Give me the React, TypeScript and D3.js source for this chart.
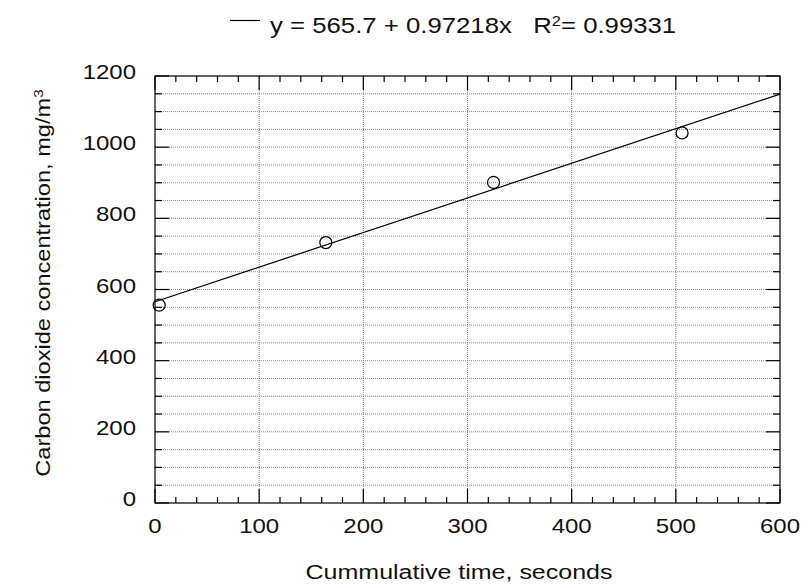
import React from "react";
import * as d3 from "d3";

const timeSeconds = [4, 164, 325, 506];
const co2Values = [556, 732, 901, 1040];
const fitIntercept = 565.7;
const fitSlope = 0.97218;
const fitR2 = "0.99331";
const xTicks = [0, 100, 200, 300, 400, 500, 600];
const yTicks = [0, 200, 400, 600, 800, 1000, 1200];

const W = 805;
const H = 586;
const M = { left: 155, right: 780, top: 76, bottom: 503 };
const FONT = "'Liberation Sans', Arial, Helvetica, sans-serif";

export default function App() {
  const x = d3.scaleLinear().domain([0, 600]).range([M.left, M.right]);
  const y = d3.scaleLinear().domain([0, 1200]).range([M.bottom, M.top]);

  const xMinor = d3.range(0, 601, 20);
  const yMinor = d3.range(0, 1201, 50);
  const line = d3.line<number>().x((d) => x(d)).y((d) => y(fitIntercept + fitSlope * d));

  return (
    <svg
      width={W}
      height={H}
      style={{ position: "absolute", left: 0, top: 0, background: "#fff" }}
      fontFamily={FONT}
      fill="#111"
    >
      {/* grid */}
      {yMinor
        .filter((v) => v > 0 && v < 1200)
        .map((v) => (
          <line key={"gy" + v} x1={M.left} x2={M.right} y1={y(v)} y2={y(v)} stroke="#888" strokeWidth={1} strokeDasharray="1,1" />
        ))}
      {xTicks
        .filter((v) => v > 0 && v < 600)
        .map((v) => (
          <line key={"gx" + v} x1={x(v)} x2={x(v)} y1={M.top} y2={M.bottom} stroke="#888" strokeWidth={1} strokeDasharray="1,1" />
        ))}
      {/* ticks */}
      {xMinor.map((v) => {
        const len = v % 100 === 0 ? 14 : 6;
        return (
          <g key={"xt" + v}>
            <line x1={x(v)} x2={x(v)} y1={M.bottom} y2={M.bottom - len} stroke="#000" strokeWidth={1.2} />
            <line x1={x(v)} x2={x(v)} y1={M.top} y2={M.top + len} stroke="#000" strokeWidth={1.2} />
          </g>
        );
      })}
      {yMinor.map((v) => {
        const len = v % 200 === 0 ? 14 : 7;
        return (
          <g key={"yt" + v}>
            <line x1={M.left} x2={M.left + len} y1={y(v)} y2={y(v)} stroke="#000" strokeWidth={1.2} />
            <line x1={M.right} x2={M.right - len} y1={y(v)} y2={y(v)} stroke="#000" strokeWidth={1.2} />
          </g>
        );
      })}
      <rect x={M.left} y={M.top} width={M.right - M.left} height={M.bottom - M.top} fill="none" stroke="#000" strokeWidth={1.2} />
      {/* tick labels */}
      {xTicks.map((v) => (
        <g key={"xl" + v} transform={`translate(${x(v)}, 533) scale(1.2, 1)`}>
          <text textAnchor="middle" fontSize={20}>
            {v}
          </text>
        </g>
      ))}
      {yTicks.map((v) => (
        <g key={"yl" + v} transform={`translate(136, ${y(v) + 3}) scale(1.2, 1)`}>
          <text textAnchor="end" fontSize={20}>
            {v}
          </text>
        </g>
      ))}
      {/* fit line */}
      <path d={line([0, 600]) || ""} fill="none" stroke="#000" strokeWidth={1.2} />
      {/* points */}
      {timeSeconds.map((t, i) => (
        <circle key={"p" + i} cx={x(t)} cy={y(co2Values[i])} r={6} fill="none" stroke="#000" strokeWidth={1.2} />
      ))}
      {/* axis titles */}
      <g transform={`translate(459, 579) scale(1.25, 1)`}>
        <text textAnchor="middle" fontSize={20}>
          Cummulative time, seconds
        </text>
      </g>
      <g transform={`translate(50, 283) rotate(-90) scale(1.18, 1)`}>
        <text textAnchor="middle" fontSize={20}>
          Carbon dioxide concentration, mg/m
          <tspan baseline-shift="super" fontSize={13}>3</tspan>
        </text>
      </g>
      {/* legend */}
      <line x1={230} x2={260} y1={20.5} y2={20.5} stroke="#000" strokeWidth={1.2} />
      <g transform={`translate(270, 33) scale(1.17, 1)`}>
        <text fontSize={22} xmlSpace="preserve">
          {`y = ${fitIntercept} + ${fitSlope}x   R`}
          <tspan baseline-shift="super" fontSize={14}>2</tspan>
          <tspan>{`= ${fitR2}`}</tspan>
        </text>
      </g>
    </svg>
  );
}
